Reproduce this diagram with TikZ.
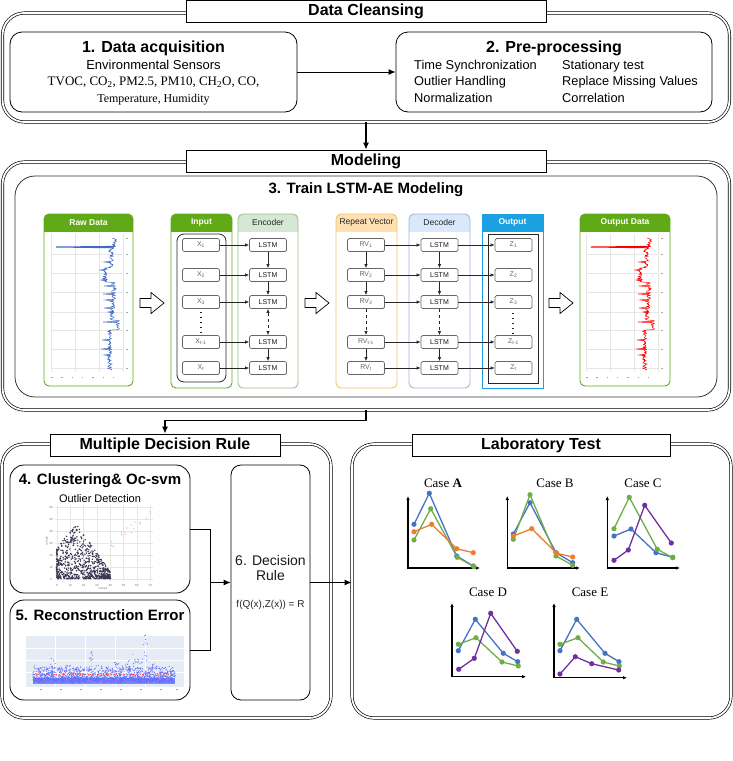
\documentclass[tikz,border=0pt]{standalone}
\usepackage{fontspec}
\setmainfont{Liberation Sans}
\newfontfamily\timesf{Liberation Serif}
\usetikzlibrary{arrows.meta}
\definecolor{dgreen}{HTML}{60A917}
\definecolor{lgreen}{HTML}{D5E8D4}
\definecolor{lgreenb}{HTML}{97C28A}
\definecolor{lorange}{HTML}{FFE0B3}
\definecolor{lorangeb}{HTML}{F0C36D}
\definecolor{lblue}{HTML}{DAE8FC}
\definecolor{lblueb}{HTML}{9DB7DE}
\definecolor{cblue}{HTML}{1BA1E2}
\definecolor{pblue}{HTML}{4472C4}
\definecolor{pgreen}{HTML}{70AD47}
\definecolor{porange}{HTML}{ED7D31}
\definecolor{ppurple}{HTML}{7030A0}
\definecolor{gridc}{HTML}{E6E6E6}
\definecolor{sctc}{HTML}{3B3450}
\definecolor{pinkc}{HTML}{F2AFAF}
\definecolor{recbg}{HTML}{E5ECF6}
\definecolor{recpt}{HTML}{636EFA}
\definecolor{tsblue}{HTML}{3F6BC4}
\newcommand\myfs[1]{\fontsize{#1}{#1}\selectfont}
\newcommand\mypanel[8]{%
  \fill[#4, rounded corners=5pt] (#1,214) rectangle (#2,231.5);
  \fill[#4] (#1,224) rectangle (#2,231.5);
  \draw[#5, line width=0.9pt, rounded corners=5pt] (#1,214) rectangle (#2,#3);
  \node[#7, inner sep=0] (#8) at ({(#1+#2)/2},222.8) {#6};
}
\newcommand\hollow[2]{%
  \draw[line width=0.7pt, fill=white, line join=miter] (#1,#2-4.5) -- ++(11,0) -- ++(0,-6) -- ++(13,10.5) -- ++(-13,10.5) -- ++(0,-6) -- ++(-11,0) -- cycle;
}
\newcommand\tsline[1]{%
  \pgfmathsetseed{21}
  \draw[#1, line width=0.5pt, line join=round] plot[domain=238:370, samples=220, variable=\t]
    ({(\t<248 ? 114 : (\t<268 ? 111 : (\t<282 ? 105 : (\t<300 ? 114 : (\t<320 ? 112 : (\t<330 ? 117 : 110))))))+2.6*rand}, \t);
  \foreach \sy/\sx/\bx in {262/104/111, 270/100/105, 286/104/114, 294/103/114, 300/105/112, 308/104/112, 322/103/117, 340/102/110, 349/101/110, 355/104/110, 312/108/112, 280/101/105}
    \draw[#1, line width=0.5pt] (\bx,\sy-0.8) -- (\sx,\sy) -- (\bx,\sy+0.8);
  \draw[#1, line width=1pt] (114,246.4) -- (56,247) -- (114,247.8);
}
\newcommand\tsgrid{%
  \foreach \gy in {254,273,292,312,330,349,368} \draw[gridc, line width=0.4pt] (51,\gy) -- (123,\gy);
  \foreach \gx in {51,75,99,123} \draw[gridc, line width=0.4pt] (\gx,234) -- (\gx,372);
  \foreach \gx in {51,61.3,...,123} \draw[black!35, line width=0.5pt] (\gx,377.5) -- (\gx+1.5,377.5);
  \foreach \gy in {238,254,273,292,312,330,349,368} \draw[black!35, line width=0.5pt] (126,\gy) -- (127.5,\gy);
}
\newcommand\series[5]{%
  \draw[#1, line width=1.3pt, line join=round] #2 -- #3 -- #4 -- #5;
  \fill[#1] #2 circle (2.6pt) #3 circle (2.6pt) #4 circle (2.6pt) #5 circle (2.6pt);
}
\begin{document}
\begin{tikzpicture}[x=1pt,y=-1pt,
  dbox/.style={draw, double, double distance=1.8pt, line width=0.65pt, rounded corners=22pt, inner sep=0},
  titlebox/.style={draw, fill=white, line width=0.8pt, font=\myfs{16}\bfseries, inner sep=0},
  rbox/.style={draw, line width=0.8pt, rounded corners=12pt, inner sep=0},
  txt/.style={inner sep=0},
  arr/.style={-{Latex[length=7pt,width=6pt]}, line width=1.2pt},
  sarr/.style={-{Latex[length=4pt,width=3.5pt]}, line width=0.7pt, black!85},
  cell/.style={draw=black!60, rounded corners=1.5pt, minimum width=37pt, minimum height=13pt, inner sep=0, font=\myfs{7}, text=black!60, line width=0.7pt, fill=white},
  axarr/.style={{Latex[length=4pt,width=3.5pt]}-{Latex[length=4pt,width=3.5pt]}, line width=1.1pt}
]
\useasboundingbox (0,0) rectangle (733,761);

% ---------------- Data Cleansing ----------------
\node[dbox, minimum width=727pt, minimum height=109pt] (dc) at (366,67.5) {};
\node[titlebox, minimum width=360pt, minimum height=22pt] (dct) at (366,11) {Data Cleansing};
\node[rbox, minimum width=287pt, minimum height=80pt] (b1) at (153.5,72) {};
\node[txt, font=\myfs{16}\bfseries] (b1a) at (153.5,48) {1. Data acquisition};
\node[txt, font=\myfs{13}] (b1b) at (153.5,64.5) {Environmental Sensors};
\node[txt, font=\timesf\myfs{13}] (b1c) at (153.5,82) {TVOC, CO\textsubscript{2}, PM2.5, PM10, CH\textsubscript{2}O, CO,};
\node[txt, font=\timesf\myfs{12}] (b1d) at (153.5,100) {Temperature, Humidity};
\node[rbox, minimum width=316pt, minimum height=80pt] (b2) at (554,72) {};
\node[txt, font=\myfs{16}\bfseries] (b2a) at (554,48) {2. Pre-processing};
\node[txt, anchor=west, font=\myfs{12.8}] (p1) at (414,66) {Time Synchronization};
\node[txt, anchor=west, font=\myfs{12.8}] (p2) at (414,82) {Outlier Handling};
\node[txt, anchor=west, font=\myfs{12.8}] (p3) at (414,98) {Normalization};
\node[txt, anchor=west, font=\myfs{12.8}] (p4) at (562,66) {Stationary test};
\node[txt, anchor=west, font=\myfs{12.8}] (p5) at (562,82) {Replace Missing Values};
\node[txt, anchor=west, font=\myfs{12.8}] (p6) at (562,98) {Correlation};
\draw[arr, line width=1pt] (b1.east) -- (b2.west);

% ---------------- Modeling ----------------
\node[dbox, minimum width=727pt, minimum height=248pt] (mo) at (366,286) {};
\node[titlebox, minimum width=360pt, minimum height=22pt] (mot) at (366,161) {Modeling};
\node[draw=black!80, line width=0.8pt, rounded corners=20pt, minimum width=702pt, minimum height=221pt, inner sep=0] (tr) at (366,286.5) {};
\node[txt, font=\myfs{15}\bfseries] (trt) at (366,190) {3. Train LSTM-AE Modeling};
\draw[arr] (dc.south) -- (mot.north);

\mypanel{44}{133}{386}{dgreen}{dgreen}{Raw Data}{text=white, font=\myfs{8.5}\bfseries}{rawh}
\mypanel{171}{232}{388}{dgreen}{dgreen}{Input}{text=white, font=\myfs{8.5}\bfseries}{inh}
\mypanel{238}{298}{388}{lgreen}{lgreenb}{Encoder}{text=black!85, font=\myfs{8.5}}{ench}
\mypanel{336}{397}{388}{lorange}{lorangeb}{Repeat Vector}{text=black!85, font=\myfs{8.5}}{rvh}
\mypanel{409}{470}{388}{lblue}{lblueb}{Decoder}{text=black!85, font=\myfs{8.5}}{dech}
\fill[cblue] (482,214) rectangle (543,231.5);
\draw[cblue, line width=1pt] (482,214) rectangle (543,388);
\node[txt, text=white, font=\myfs{8.5}\bfseries] (outh) at (512.5,222.8) {Output};
\mypanel{580}{670}{386}{dgreen}{dgreen}{Output Data}{text=white, font=\myfs{8.5}\bfseries}{odh}

% charts
\tsgrid
\tsline{tsblue}
\begin{scope}[shift={(535,0)}]
  \tsgrid
  \tsline{red}
\end{scope}

\node[draw=black!85, line width=0.8pt, rounded corners=7pt, minimum width=49pt, minimum height=148pt, inner sep=0] (inbox) at (201.5,308) {};
\node[draw=black!85, line width=0.8pt, minimum width=50pt, minimum height=149pt, inner sep=0] (outbox) at (513,308.5) {};

\foreach \i/\y/\s in {1/245/1, 2/275/2, 3/302/3, 4/342/t-1, 5/368/t} {
  \node[cell] (x\i) at (201,\y) {X\textsubscript{\s}};
  \node[cell, text=black!90] (e\i) at (268,\y) {LSTM};
  \node[cell] (r\i) at (366,\y) {RV\textsubscript{\s}};
  \node[cell, text=black!90] (d\i) at (439.5,\y) {LSTM};
  \node[cell] (z\i) at (513.5,\y) {Z\textsubscript{\s}};
  \draw[sarr] (x\i) -- (e\i);
  \draw[sarr] (r\i) -- (d\i);
  \draw[sarr] (d\i) -- (z\i);
}
\foreach \c in {e,r,d} {
  \draw[sarr] (\c1) -- (\c2);
  \draw[sarr] (\c2) -- (\c3);
  \draw[sarr] (\c4) -- (\c5);
}
\draw[sarr, dashed, {Latex[length=4pt,width=3.5pt]}-{Latex[length=4pt,width=3.5pt]}] (e3) -- (e4);
\draw[sarr, dashed] (r3) -- (r4);
\draw[sarr, dashed] (d3) -- (d4);
\draw[black!85, line width=1.3pt, dash pattern=on 1.3pt off 3.7pt] (201,312) -- (201,334);
\draw[black!85, line width=1.3pt, dash pattern=on 1.3pt off 3.7pt] (513,313) -- (513,335);

\hollow{140}{303}
\hollow{305}{303}
\hollow{549}{303}

% ---------------- Multiple Decision Rule ----------------
\node[dbox, minimum width=329pt, minimum height=274pt] (mdr) at (166.5,581) {};
\node[titlebox, minimum width=230pt, minimum height=22pt] (mdrt) at (165,445) {Multiple Decision Rule};
\node[rbox, rounded corners=14pt, minimum width=180pt, minimum height=128pt] (b4) at (100,529) {};
\node[rbox, rounded corners=14pt, minimum width=180pt, minimum height=100pt] (b5) at (100,650) {};
\node[rbox, rounded corners=10pt, minimum width=79pt, minimum height=235pt] (b6) at (270.5,582.5) {};
\node[txt, font=\myfs{15}\bfseries] (b4a) at (100,481) {4. Clustering\& Oc-svm};
\node[txt, font=\myfs{11}] (b4b) at (100,498.5) {Outlier Detection};
\node[txt, font=\myfs{15}\bfseries] (b5a) at (100,615) {5. Reconstruction Error};
\node[txt, font=\myfs{14}, align=center, text=black!90] (b6a) at (270.5,568) {6. Decision\\[1.5pt]Rule};
\node[txt, font=\myfs{10}, text=black!85] (b6b) at (270.5,605) {f(Q(x),Z(x)) = R};

% scatter plot
\foreach \k in {0,...,6} \draw[gridc, line width=0.4pt] (55,{507+12*\k}) -- (153,{507+12*\k});
\foreach \k in {0,...,7} \draw[gridc, line width=0.4pt] ({57+13.3*\k},505) -- ({57+13.3*\k},581);
\foreach \v [count=\k from 0] in {60,50,40,30,20,10,0} \node[txt, font=\myfs{3}, text=black!55] (sy\k) at (51,{507+12*\k}) {\v};
\foreach \v [count=\k from 0] in {0,10,20,30,40,50,60,70} \node[txt, font=\myfs{3}, text=black!55] (sx\k) at ({57+13.3*\k},585) {\v};
\node[txt, font=\myfs{3}, text=black!55] (sxl) at (103,589) {comp1};
\node[txt, font=\myfs{3}, text=black!55, rotate=90] (syl) at (47,541) {comp2};
\pgfmathsetseed{12}
\foreach \i in {1,...,650} {
  \pgfmathsetmacro\px{56+54*rnd}
  \pgfmathsetmacro\up{\px<76 ? 28+27*(\px-56)/20 : 55-48*(\px-76)/34}
  \pgfmathsetmacro\py{578-\up*pow(rnd,1.5)}
  \fill[sctc] (\px,\py) circle (0.8pt);
}
\foreach \i in {1,...,25} {
  \pgfmathsetmacro\py{578-28*rnd}
  \fill[sctc] (57,\py) circle (0.8pt);
}
\foreach \i in {1,...,50} {
  \pgfmathsetmacro\px{56+55*rnd}
  \fill[sctc] (\px,578.5) circle (0.8pt);
}
\foreach \i in {1,...,20} {
  \pgfmathsetmacro\px{110+43*rnd}
  \pgfmathsetmacro\py{545-(\px-110)*0.75+10*(rnd-0.5)}
  \fill[pinkc] (\px,\py) circle (0.7pt);
}

% reconstruction plot
\fill[recbg] (26,636) rectangle (184,687);
\foreach \gx in {55,85,115,145} \draw[white, line width=0.4pt] (\gx,636) -- (\gx,687);
\foreach \gy in {648,660,672} \draw[white, line width=0.4pt] (26,\gy) -- (184,\gy);
\fill[recpt!80] (33,678) rectangle (175,684);
\pgfmathsetseed{5}
\foreach \i in {1,...,1400} {
  \pgfmathsetmacro\px{33+142*rnd}
  \pgfmathsetmacro\py{683-5*rnd-13*pow(rnd,3)}
  \fill[recpt] (\px,\py) circle (0.6pt);
}
\draw[red!65, line width=0.7pt, dash pattern=on 1pt off 1.6pt] (33,674) -- (175,674);
\foreach \cx/\h in {53/20, 90/26, 117/16, 135/24, 145/44, 60/12, 75/12, 100/14, 160/12, 128/18, 40/12, 170/8, 47/9, 68/14, 82/10, 108/11, 122/13, 140/20, 152/15, 165/10} {
  \foreach \j in {1,...,14} {
    \pgfmathsetmacro\px{\cx+5*(rnd-0.5)}
    \pgfmathsetmacro\py{678-\h*pow(rnd,0.8)}
    \fill[recpt] (\px,\py) circle (0.55pt);
  }
}
\foreach \gx in {40,60,80,100,120,140,160,176} \draw[black!35, line width=0.5pt] (\gx,689.5) -- (\gx+2,689.5);

% ---------------- Laboratory Test ----------------
\node[dbox, minimum width=379pt, minimum height=274pt] (lab) at (541.5,581) {};
\node[titlebox, minimum width=258pt, minimum height=22pt] (labt) at (541,445) {Laboratory Test};

\node[txt, font=\timesf\myfs{13}] (ca) at (443,483) {Case \textbf{A}};
\node[txt, font=\timesf\myfs{13}] (cb) at (555,483) {Case B};
\node[txt, font=\timesf\myfs{13}] (cc) at (643,483) {Case C};
\node[txt, font=\timesf\myfs{13}] (cd) at (488,592) {Case D};
\node[txt, font=\timesf\myfs{13}] (ce) at (590,592) {Case E};

% case A
\draw[axarr] (408,496) -- (408,568) -- (480,568);
\series{pblue}{(414,524.3)}{(429.3,493.3)}{(456.7,556)}{(473.3,566)}
\series{pgreen}{(414,540)}{(430.7,508.7)}{(457.3,557.3)}{(474,566.7)}
\series{porange}{(414,531.7)}{(431.7,524.3)}{(456.7,548.7)}{(473.3,552.7)}
% case B
\draw[axarr] (507.3,496) -- (507.3,568) -- (580,568);
\series{pblue}{(513.3,534)}{(530,502.7)}{(556,552.7)}{(572.7,562.7)}
\series{pgreen}{(513.3,539.3)}{(530,494.7)}{(556,556)}{(572.7,565.3)}
\series{porange}{(513.3,536)}{(531.7,528.7)}{(556.7,553.3)}{(572.7,557)}
% case C
\draw[axarr] (607.3,496) -- (607.3,568) -- (680,568);
\series{pblue}{(614,536)}{(631,529)}{(656,552.7)}{(672.7,557.3)}
\series{pgreen}{(614,528.7)}{(629.3,497.3)}{(657.3,549.3)}{(672.7,557.7)}
\series{ppurple}{(614,560.3)}{(628.3,550)}{(644.7,505.3)}{(671.3,543)}
% case D
\draw[axarr] (452,603) -- (452,676.7) -- (526,676.7);
\series{pblue}{(458.3,650.7)}{(475.3,619.3)}{(503.3,653.3)}{(517.7,661.7)}
\series{pgreen}{(458.3,644.3)}{(476,637.7)}{(502,662)}{(518.3,666)}
\series{ppurple}{(458.7,669.3)}{(474.3,658.3)}{(490.7,613.3)}{(517.3,651.3)}
% case E
\draw[axarr] (554,603) -- (554,677.7) -- (627,677.7);
\series{pblue}{(560,650.7)}{(576.7,619.3)}{(605,653.3)}{(619,661.7)}
\series{pgreen}{(560,644.3)}{(578,637.7)}{(603.3,662)}{(619.3,666)}
\series{ppurple}{(560,674)}{(575.3,656.7)}{(591.7,663.7)}{(618.7,670)}

% ---------------- connectors ----------------
\draw[arr] (mo.south) -- ++(0,10) -| (mdrt.north);
\coordinate (jn) at (210,582.5);
\draw[line width=1pt] (b4.east) -| (jn);
\draw[line width=1pt] (b5.east) -| (jn);
\draw[arr, line width=1pt] (jn) -- (b6.west);
\draw[arr, line width=1pt] (b6.east) -- (b6.east -| lab.west);
\end{tikzpicture}
\end{document}
